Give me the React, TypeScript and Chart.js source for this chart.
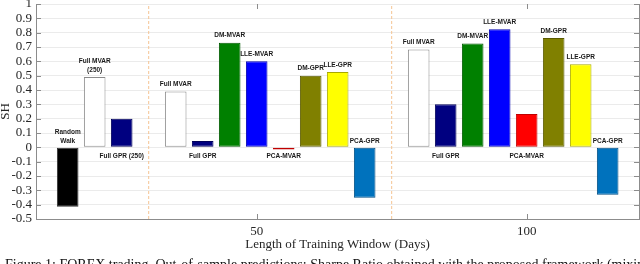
import React, { useEffect, useRef } from 'react';
import { Chart, registerables } from 'chart.js';

Chart.register(...registerables);

// ---- data ----
const barLabels = [
  'Random\nWalk', 'Full MVAR\n(250)', 'Full GPR (250)',
  'Full MVAR', 'Full GPR', 'DM-MVAR', 'LLE-MVAR', 'PCA-MVAR', 'DM-GPR', 'LLE-GPR', 'PCA-GPR',
  'Full MVAR', 'Full GPR', 'DM-MVAR', 'LLE-MVAR', 'PCA-MVAR', 'DM-GPR', 'LLE-GPR', 'PCA-GPR',
];
const barX = [15, 20, 25, 35, 40, 45, 50, 55, 60, 65, 70, 80, 85, 90, 95, 100, 105, 110, 115];
const sharpe = [
  -0.415, 0.49, 0.2,
  0.39, 0.045, 0.73, 0.6, -0.015, 0.5, 0.525, -0.352,
  0.683, 0.3, 0.725, 0.823, 0.233, 0.762, 0.58, -0.33,
];
const xTickValues = [50, 100];
const separatorX = [30, 75];
const yTickValues = [-0.5, -0.4, -0.3, -0.2, -0.1, 0, 0.1, 0.2, 0.3, 0.4, 0.5, 0.6, 0.7, 0.8, 0.9, 1];
const xTitle = 'Length of Training Window (Days)';
const yTitle = 'SH';
const caption =
  'Figure 1: FOREX trading. Out-of-sample predictions: Sharpe Ratio obtained with the proposed framework (mixing';

// ---- styles ----
const barColors = [
  '#000000', '#ffffff', '#000080',
  '#ffffff', '#000080', '#008000', '#0000ff', '#ff0000', '#808000', '#ffff00', '#0072bd',
  '#ffffff', '#000080', '#008000', '#0000ff', '#ff0000', '#808000', '#ffff00', '#0072bd',
];
const barBorders = [
  '#333333', '#8a8a8a', '#00005a',
  '#8a8a8a', '#00005a', '#005a00', '#0000b0', '#c00000', '#5a5a00', '#a8a800', '#004f85',
  '#8a8a8a', '#00005a', '#005a00', '#0000b0', '#c00000', '#5a5a00', '#a8a800', '#004f85',
];
const labelPlacement = [
  'aboveZero', 'top', 'belowZero',
  'top', 'belowZero', 'top', 'top', 'belowZero', 'top', 'top', 'aboveZero',
  'top', 'belowZero', 'top', 'top', 'belowZero', 'top', 'top', 'aboveZero',
];
const AXIS_COLOR = '#8c8c8c';
const TEXT_COLOR = '#262626';
const SERIF = '"Liberation Serif", "Times New Roman", serif';

const axesPlugin = {
  id: 'matlabAxes',
  afterDatasetsDraw(chart: any) {
    const { ctx, chartArea, scales } = chart;
    const { left, right, top, bottom } = chartArea;
    const x = scales.x;
    const y = scales.y;
    ctx.save();
    ctx.strokeStyle = AXIS_COLOR;
    ctx.lineWidth = 1;
    ctx.beginPath();
    ctx.moveTo(right + 0.5, top);
    ctx.lineTo(right + 0.5, bottom + 1);
    yTickValues.forEach((v) => {
      const py = Math.round(y.getPixelForValue(v)) + 0.5;
      ctx.moveTo(left, py);
      ctx.lineTo(left + 5, py);
      ctx.moveTo(right - 5, py);
      ctx.lineTo(right + 0.5, py);
    });
    xTickValues.forEach((v) => {
      const px = Math.round(x.getPixelForValue(v)) + 0.5;
      ctx.moveTo(px, bottom);
      ctx.lineTo(px, bottom - 5);
      ctx.moveTo(px, top);
      ctx.lineTo(px, top + 5);
    });
    ctx.stroke();

    // bar labels
    const meta = chart.getDatasetMeta(0);
    const zero = y.getPixelForValue(0);
    ctx.font = 'bold 6.5px "Liberation Sans", Arial, sans-serif';
    ctx.textAlign = 'center';
    ctx.textBaseline = 'middle';
    ctx.fillStyle = '#1a1a1a';
    meta.data.forEach((bar: any, i: number) => {
      const lines = barLabels[i].split('\n');
      const place = labelPlacement[i];
      const lh = 8.5;
      if (place === 'belowZero') {
        lines.forEach((t, k) => ctx.fillText(t, bar.x, zero + 9 + k * lh));
      } else {
        const base = place === 'top' ? bar.y - 7 : zero - 6.5;
        const n = lines.length;
        lines.forEach((t, k) => ctx.fillText(t, bar.x, base - (n - 1 - k) * lh));
      }
    });
    ctx.restore();
  },
};

export default function App() {
  const ref = useRef<HTMLCanvasElement | null>(null);

  useEffect(() => {
    document.body.style.margin = '0';
    const canvas = ref.current;
    if (!canvas) return;

    const datasets: any[] = [
      {
        type: 'bar',
        data: barX.map((xv, i) => ({ x: xv, y: sharpe[i] })),
        backgroundColor: barColors,
        borderColor: barBorders,
        borderWidth: 1,
        borderSkipped: false,
        barPercentage: 0.8,
        categoryPercentage: 1,
        order: 1,
      },
      ...separatorX.map((sx) => ({
        type: 'line',
        data: [
          { x: sx, y: -0.5 },
          { x: sx, y: 1 },
        ],
        borderColor: '#f5c493',
        borderWidth: 1,
        borderDash: [3, 2],
        pointRadius: 0,
        fill: false,
        order: 2,
      })),
    ];

    const chart = new Chart(canvas, {
      type: 'bar',
      data: { datasets },
      plugins: [axesPlugin],
      options: {
        animation: false,
        responsive: false,
        devicePixelRatio: 1,
        layout: { padding: { top: 4, right: 1, left: 0, bottom: 0 } },
        plugins: { legend: { display: false }, tooltip: { enabled: false } },
        scales: {
          x: {
            type: 'linear',
            min: 9.13,
            max: 120.8,
            offset: false,
            grid: { display: false, offset: false },
            border: { display: true, color: AXIS_COLOR, width: 1 },
            afterBuildTicks: (s: any) => {
              s.ticks = xTickValues.map((v) => ({ value: v }));
            },
            afterFit: (s: any) => {
              s.height = 45;
              s.paddingLeft = 0;
              s.paddingRight = 0;
            },
            ticks: {
              padding: -3,
              maxRotation: 0,
              autoSkip: false,
              color: TEXT_COLOR,
              font: { family: SERIF, size: 13 },
              callback: (v: any) => String(v),
            },
            title: {
              display: true,
              text: xTitle,
              color: TEXT_COLOR,
              font: { family: SERIF, size: 13 },
              padding: { top: 0, bottom: 12 },
            },
          },
          y: {
            type: 'linear',
            min: -0.5,
            max: 1,
            grid: { display: true, drawTicks: false, color: '#ebebeb', lineWidth: 1 },
            border: { display: true, color: AXIS_COLOR, width: 1 },
            afterBuildTicks: (s: any) => {
              s.ticks = yTickValues.map((v) => ({ value: v }));
            },
            afterFit: (s: any) => {
              s.width = 36;
              s.paddingTop = 0;
              s.paddingBottom = 0;
            },
            ticks: {
              padding: 4,
              autoSkip: false,
              color: TEXT_COLOR,
              font: { family: SERIF, size: 13 },
              callback: (v: any) => String(Math.round(Number(v) * 10) / 10),
            },
            title: {
              display: true,
              text: yTitle,
              color: TEXT_COLOR,
              font: { family: SERIF, size: 13, lineHeight: 0.85 },
              padding: 0,
            },
          },
        },
      } as any,
    });

    return () => chart.destroy();
  }, []);

  return (
    <div style={{ position: 'relative', width: 640, height: 264, overflow: 'hidden', background: '#fff' }}>
      <canvas ref={ref} width={640} height={264} style={{ position: 'absolute', left: 0, top: 0, width: 640, height: 264 }} />
      <div
        style={{
          position: 'absolute',
          left: 5,
          top: 258,
          whiteSpace: 'nowrap',
          fontFamily: SERIF,
          fontSize: 14,
          lineHeight: '14px',
          color: '#111',
        }}
      >
        {caption}
      </div>
    </div>
  );
}
